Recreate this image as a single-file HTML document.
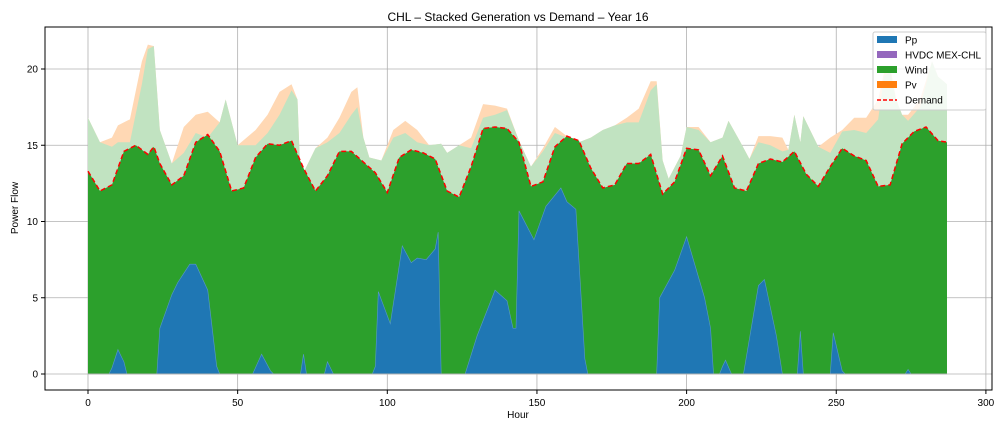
<!DOCTYPE html>
<html><head><meta charset="utf-8"><style>
body{margin:0;background:#fff;font-family:"Liberation Sans",sans-serif;}
svg text{font-family:"Liberation Sans",sans-serif;}
</style></head><body>
<svg id="chart" width="1008" height="432" xmlns="http://www.w3.org/2000/svg"></svg>
<script>
const demandHours=[0,4,8,12,16,20,22,24,28,32,36,40,44,48,52,56,60,64,68,72,76,80,84,88,92,96,100,104,108,112,116,120,124,128,132,136,140,144,148,152,156,160,164,168,172,176,180,184,188,192,196,200,204,208,212,216,220,224,228,232,236,240,244,248,252,256,260,264,268,272,276,280,284,287];
const demandValues=[13.3,12.0,12.4,14.6,15.0,14.4,14.9,13.8,12.4,13.0,15.2,15.7,14.6,12.0,12.2,14.2,15.1,15.0,15.3,13.5,12.0,13.0,14.6,14.6,13.9,13.2,11.9,14.2,14.7,14.5,14.1,12.0,11.6,13.6,16.1,16.2,16.1,15.2,12.3,12.6,14.9,15.6,15.3,13.5,12.2,12.4,13.8,13.8,14.4,11.8,12.6,14.8,14.7,13.0,14.3,12.2,12.0,13.8,14.1,13.9,14.6,13.1,12.3,13.6,14.8,14.3,14.0,12.3,12.4,15.1,15.9,16.2,15.3,15.2];
const ppHours=[0,7,8,10,12,13,23,24,28,30,34,36,40,43,44,55,58,61,62,71,72,73,79,80,82,95,96,97,101,105,108,110,113,116,117,118,126,130,134,136,140,142,143,144,149,153,158,160,163,166,167,190,191,196,200,203,206,208,209,211,212,213,215,219,224,226,230,232,237,238,239,248,249,252,253,273,274,275,287];
const ppValues=[0,0,0.4,1.6,0.8,0,0,3.0,5.2,6.0,7.2,7.2,5.5,0.5,0,0,1.3,0.2,0,0,1.3,0,0,0.8,0,0,0.5,5.4,3.3,8.4,7.3,7.6,7.5,8.2,9.3,0,0,2.5,4.5,5.5,4.8,3.0,3.0,10.7,8.8,11.0,12.2,11.3,10.8,1.0,0,0,5.0,6.8,9.0,7.0,5.0,3.0,0,0,0.5,0.9,0,0,5.8,6.2,2.5,0,0,2.8,0,0,2.7,0.2,0,0,0.3,0,0];
const supHours=[0,4,8,10,14,18,20,22,24,28,32,36,40,44,46,48,50,56,60,64,68,70,71,76,80,84,88,90,92,94,98,102,106,110,114,118,120,124,128,132,136,140,144,148,152,156,160,164,168,172,176,180,184,188,190,192,194,198,200,204,208,212,214,218,221,224,228,232,234,236,238,239,244,248,252,256,260,264,266,268,270,272,274,278,282,284,287];
const windTop=[16.8,15.2,14.9,15.2,15.2,19.0,21.3,21.5,16.0,13.8,14.5,15.8,15.5,16.5,18.0,16.5,15.0,15.0,15.8,17.0,18.6,18.0,12.8,14.8,15.2,15.8,17.0,17.5,15.5,14.2,14.0,15.5,15.8,15.2,15.0,15.1,14.5,15.0,14.8,16.8,17.0,17.3,15.3,13.6,14.6,15.8,15.5,15.2,15.5,16.0,16.3,16.5,16.5,18.6,19.0,14.0,12.8,14.3,16.2,16.0,15.2,15.5,16.6,15.2,14.1,15.2,15.0,14.6,14.7,17.0,15.2,16.9,14.9,14.5,15.9,16.0,15.8,16.7,19.5,19.8,18.0,17.0,16.6,17.5,20.5,19.5,19.0];
const pvTop=[16.8,15.2,15.5,16.3,16.7,20.5,21.6,21.5,16.0,13.8,16.2,17.0,17.2,16.5,18.0,16.5,15.0,16.0,17.0,18.5,19.0,18.0,12.8,14.8,15.5,16.8,18.5,18.8,15.5,14.2,14.0,16.0,16.6,16.0,15.0,15.1,14.5,15.0,15.5,17.7,17.6,17.4,15.3,13.6,14.8,16.2,15.6,15.2,15.5,16.0,16.3,16.8,17.4,19.2,19.2,14.0,12.8,14.3,16.2,16.2,15.2,15.5,16.6,15.2,14.1,15.6,15.6,15.5,14.7,17.0,15.2,16.9,14.9,15.5,16.0,16.8,16.8,18.0,19.8,20.2,18.0,17.0,17.0,18.0,20.5,19.5,19.0];
const xTicks=[0,50,100,150,200,250,300];
const yTicks=[0,5,10,15,20];

const NS="http://www.w3.org/2000/svg";
const svg=document.getElementById('chart');
const L=45,R=992,T=27,B=390;
const X=h=>88+h*2.993;
const Y=v=>374-v*15.25;
function mk(tag,attrs,parent){const e=document.createElementNS(NS,tag);for(const k in attrs)e.setAttribute(k,attrs[k]);(parent||svg).appendChild(e);return e;}
function areaPath(hs,top,bot){let d='M'+X(hs[0])+','+Y(top[0]);for(let i=1;i<hs.length;i++)d+='L'+X(hs[i])+','+Y(top[i]);for(let i=hs.length-1;i>=0;i--)d+='L'+X(hs[i])+','+Y(bot?bot[i]:0);return d+'Z';}
function linePath(hs,vs){let d='';hs.forEach((h,i)=>d+=(i?'L':'M')+X(h)+','+Y(vs[i]));return d;}

// plot background
const bg=mk('rect',{x:L,y:T,width:R-L,height:B-T,fill:'#fff'});


// grid
xTicks.forEach(t=>{const g=mk('line',{x1:X(t),x2:X(t),y1:T,y2:B,stroke:'#b0b0b0','stroke-width':0.8});

});
yTicks.forEach(t=>{const g=mk('line',{x1:L,x2:R,y1:Y(t),y2:Y(t),stroke:'#b0b0b0','stroke-width':0.8});

});

// pv curtailed (orange light)
const pv=mk('path',{d:areaPath(supHours,pvTop),fill:'#ffd8b4'});


const wt=mk('path',{d:areaPath(supHours,windTop),fill:'#c1e3c1'});


const wd=mk('path',{d:areaPath(demandHours,demandValues),fill:'#2ca02c'});


const pp=mk('path',{d:areaPath(ppHours,ppValues),fill:'#1f77b4',stroke:'#5a9ac8','stroke-width':0.6});


const dm=mk('path',{d:linePath(demandHours,demandValues),fill:'none',stroke:'#ff0000','stroke-width':1.5,'stroke-dasharray':'5,3'});


const base=mk('line',{x1:X(0),x2:X(287),y1:Y(0),y2:Y(0),stroke:'#b0b0b0','stroke-width':1});



// frame
const fr=mk('rect',{x:L,y:T,width:R-L,height:B-T,fill:'none',stroke:'#000','stroke-width':1});


// ticks
xTicks.forEach(t=>{mk('line',{x1:X(t),x2:X(t),y1:B,y2:B+4,stroke:'#000'});
const tx=mk('text',{x:X(t),y:B+16,'font-size':10,'text-anchor':'middle',fill:'#000'});tx.textContent=t;

});
yTicks.forEach(t=>{mk('line',{x1:L-4,x2:L,y1:Y(t),y2:Y(t),stroke:'#000'});
const tx=mk('text',{x:L-7,y:Y(t)+3.5,'font-size':10,'text-anchor':'end',fill:'#000'});tx.textContent=t;

});
const xt=mk('text',{x:518,y:418,'font-size':10,'text-anchor':'middle'});xt.textContent='Hour';


const yt=mk('text',{x:18,y:208,'font-size':10,'text-anchor':'middle',transform:'rotate(-90 18 208)'});yt.textContent='Power Flow';


const ti=mk('text',{x:518,y:21,'font-size':12,'text-anchor':'middle'});ti.textContent='CHL – Stacked Generation vs Demand – Year 16';



// legend
const lg=mk('g',{});


mk('rect',{x:873,y:32,width:113,height:78,rx:2,fill:'rgba(255,255,255,0.8)',stroke:'#ccc'},lg);
const items=[['Pp','#1f77b4'],['HVDC MEX-CHL','#9467bd'],['Wind','#2ca02c'],['Pv','#ff7f0e'],['Demand',null]];
items.forEach((it,i)=>{const y=40+i*15;
if(it[1])mk('rect',{x:877,y:y-4,width:20,height:7,fill:it[1]},lg);
else mk('line',{x1:877,x2:897,y1:y,y2:y,stroke:'#ff0000','stroke-width':1.5,'stroke-dasharray':'4,2'},lg);
const t=mk('text',{x:905,y:y+3.5,'font-size':10},lg);t.textContent=it[0];

});
</script>
</body></html>
